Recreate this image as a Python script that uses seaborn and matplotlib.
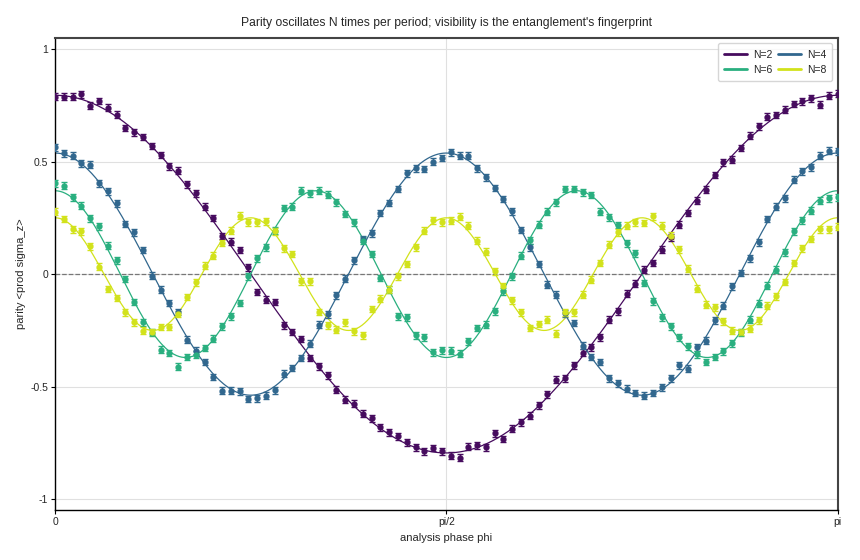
import numpy as np
import pandas as pd
import matplotlib
matplotlib.use("Agg")
import matplotlib.pyplot as plt
import seaborn as sns

# measured parity <prod sigma_z> at 90 evenly spaced analysis phases in [0, pi]
n_points = 90
parity_n2 = [0.79, 0.79, 0.79, 0.80, 0.75, 0.77, 0.74, 0.71, 0.65, 0.63, 0.61, 0.57, 0.53, 0.48, 0.46,
             0.40, 0.36, 0.30, 0.25, 0.17, 0.144, 0.107, 0.03, -0.079, -0.114, -0.124, -0.228, -0.258,
             -0.289, -0.373, -0.41, -0.45, -0.514, -0.559, -0.577, -0.621, -0.641, -0.681, -0.703,
             -0.722, -0.748, -0.77, -0.789, -0.774, -0.789, -0.807, -0.816, -0.767, -0.762, -0.771,
             -0.708, -0.734, -0.688, -0.659, -0.63, -0.584, -0.534, -0.47, -0.463, -0.406, -0.35,
             -0.326, -0.281, -0.203, -0.166, -0.087, -0.042, 0.02, 0.049, 0.108, 0.163, 0.22, 0.272,
             0.327, 0.376, 0.441, 0.497, 0.509, 0.561, 0.616, 0.658, 0.701, 0.708, 0.732, 0.757,
             0.768, 0.782, 0.754, 0.794, 0.802]
parity_n4 = [0.564, 0.537, 0.527, 0.493, 0.486, 0.404, 0.368, 0.315, 0.223, 0.186, 0.107, -0.007,
             -0.069, -0.128, -0.169, -0.292, -0.34, -0.391, -0.458, -0.519, -0.519, -0.522, -0.556,
             -0.552, -0.541, -0.517, -0.443, -0.418, -0.373, -0.31, -0.225, -0.178, -0.094, -0.02,
             0.062, 0.156, 0.181, 0.272, 0.316, 0.379, 0.448, 0.471, 0.468, 0.50, 0.517, 0.542, 0.527,
             0.527, 0.471, 0.431, 0.383, 0.334, 0.279, 0.196, 0.119, 0.045, -0.047, -0.091, -0.175,
             -0.218, -0.318, -0.369, -0.391, -0.463, -0.485, -0.51, -0.529, -0.54, -0.529, -0.503,
             -0.463, -0.406, -0.421, -0.326, -0.296, -0.206, -0.14, -0.054, 0.005, 0.071, 0.141,
             0.245, 0.30, 0.337, 0.42, 0.457, 0.475, 0.527, 0.549, 0.546]
parity_n6 = [0.404, 0.393, 0.341, 0.304, 0.248, 0.212, 0.126, 0.062, -0.022, -0.124, -0.215, -0.26,
             -0.336, -0.351, -0.411, -0.369, -0.359, -0.329, -0.287, -0.232, -0.188, -0.128, -0.01,
             0.071, 0.119, 0.193, 0.294, 0.30, 0.371, 0.359, 0.371, 0.353, 0.319, 0.267, 0.23, 0.148,
             0.089, -0.017, -0.07, -0.188, -0.192, -0.272, -0.281, -0.348, -0.339, -0.341, -0.354,
             -0.299, -0.24, -0.225, -0.166, -0.077, -0.01, 0.082, 0.151, 0.22, 0.278, 0.319, 0.379,
             0.379, 0.364, 0.352, 0.278, 0.252, 0.218, 0.137, 0.092, -0.039, -0.121, -0.192, -0.232,
             -0.281, -0.321, -0.356, -0.391, -0.369, -0.344, -0.307, -0.259, -0.203, -0.131, -0.051,
             0.02, 0.097, 0.19, 0.24, 0.282, 0.327, 0.337, 0.342]
parity_n8 = [0.278, 0.245, 0.20, 0.19, 0.123, 0.033, -0.066, -0.106, -0.17, -0.215, -0.252, -0.258,
             -0.235, -0.235, -0.177, -0.102, -0.036, 0.037, 0.082, 0.138, 0.193, 0.26, 0.23, 0.23,
             0.235, 0.19, 0.114, 0.089, -0.032, -0.032, -0.169, -0.228, -0.247, -0.215, -0.255,
             -0.272, -0.155, -0.11, -0.069, -0.01, 0.045, 0.119, 0.193, 0.24, 0.23, 0.238, 0.255,
             0.215, 0.148, 0.099, 0.012, -0.055, -0.117, -0.17, -0.24, -0.222, -0.203, -0.265, -0.17,
             -0.17, -0.091, -0.025, 0.049, 0.131, 0.186, 0.215, 0.23, 0.227, 0.257, 0.215, 0.171,
             0.111, 0.025, -0.065, -0.136, -0.148, -0.21, -0.252, -0.258, -0.243, -0.206, -0.14,
             -0.099, -0.035, 0.049, 0.114, 0.156, 0.20, 0.20, 0.211]
parity_err = 0.015

n_values = [2, 4, 6, 8]
series = [parity_n2, parity_n4, parity_n6, parity_n8]
labels = [f"N={n}" for n in n_values]
colors = [plt.cm.viridis(v) for v in np.linspace(0.03, 0.93, 4)]

phi = np.linspace(0, np.pi, n_points)
phi_fine = np.linspace(0, np.pi, 600)

# fit visibility V for each N: parity = V cos(N phi)
fit_rows = []
for n, vals, lab in zip(n_values, series, labels):
    basis = np.cos(n * phi)
    vis = np.dot(np.asarray(vals), basis) / np.dot(basis, basis)
    fit_rows.append(pd.DataFrame({"phi": phi_fine, "parity": vis * np.cos(n * phi_fine), "N": lab}))
fits = pd.concat(fit_rows, ignore_index=True)

sns.set_theme(style="whitegrid")
plt.rcParams["font.family"] = ["Liberation Sans", "DejaVu Sans"]

fig = plt.figure(figsize=(8.6, 5.6), dpi=100)
ax = fig.add_axes([0.064, 0.089, 0.91, 0.843])

sns.lineplot(data=fits, x="phi", y="parity", hue="N", palette=colors, linewidth=0.9,
             ax=ax, legend=False, zorder=2)
for vals, col in zip(series, colors):
    ax.errorbar(phi, vals, yerr=parity_err, fmt="o", color=col, markersize=3.5,
                elinewidth=1, capsize=2, capthick=1, zorder=3)

# legend laid out row-wise: N=2 N=4 / N=6 N=8
handles = {}
for lab, col in zip(labels, colors):
    handles[lab], = ax.plot([], [], color=col, linewidth=2, label=lab)
order = ["N=2", "N=6", "N=4", "N=8"]

ax.axhline(0, color="#777777", linestyle="--", linewidth=0.9, zorder=1)

ax.set_xlim(0, np.pi)
ax.set_ylim(-1.05, 1.05)
ax.set_xticks([0, np.pi / 2, np.pi])
ax.set_xticklabels(["0", "pi/2", "pi"])
ax.set_yticks([-1, -0.5, 0, 0.5, 1])
ax.set_yticklabels(["-1", "-0.5", "0", "0.5", "1"])
ax.grid(True, color="#e0e0e0", linewidth=0.8)
for side, sp in ax.spines.items():
    sp.set_color("black" if side in ("left", "bottom") else "#444444")
    sp.set_linewidth(1.0 if side in ("left", "bottom") else 1.5)
ax.tick_params(axis="both", direction="out", length=3, width=0.8, color="black",
               labelsize=7.5, pad=2, bottom=True, left=True)

ax.set_title("Parity oscillates N times per period; visibility is the entanglement's fingerprint",
             fontsize=8.7, pad=9)
ax.set_xlabel("analysis phase phi", fontsize=8, labelpad=4)
ax.set_ylabel("parity <prod sigma_z>", fontsize=8, labelpad=3)
ax.legend([handles[k] for k in order], order, loc="upper right", ncol=2, fontsize=7.5,
          frameon=True, handlelength=2.2, columnspacing=0.5, handletextpad=0.6,
          borderpad=0.6, borderaxespad=0.5)

fig.savefig("out.png", dpi=100)
